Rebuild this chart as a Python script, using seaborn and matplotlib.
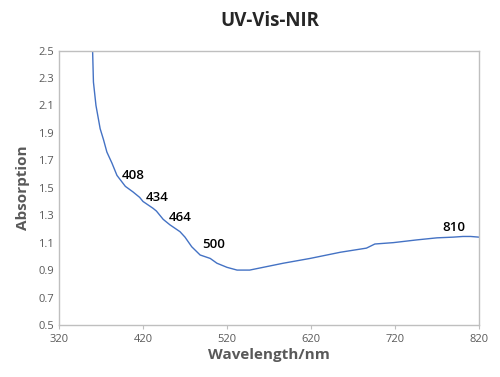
import matplotlib
matplotlib.use("Agg")
import matplotlib.pyplot as plt
import seaborn as sns
import pandas as pd

# =====================
# DATA
# =====================
wavelength = [359, 360, 361, 364, 369, 373, 377, 383, 389, 399, 408, 416, 420,
              432, 436, 444, 452, 464, 470, 478, 488, 500, 508, 520, 532, 547,
              587, 619, 655, 686, 696, 718, 746, 770, 789, 801, 810, 820]
absorption = [2.60, 2.50, 2.27, 2.10, 1.93, 1.85, 1.76, 1.68, 1.59, 1.51, 1.47,
              1.43, 1.40, 1.35, 1.33, 1.27, 1.23, 1.18, 1.14, 1.07, 1.01, 0.985,
              0.95, 0.92, 0.90, 0.90, 0.95, 0.985, 1.03, 1.06, 1.09, 1.10, 1.12,
              1.135, 1.14, 1.145, 1.145, 1.14]

peak_labels = ["408", "434", "464", "500", "810"]
label_x = [395, 423, 451, 490, 776]
label_y = [1.59, 1.43, 1.28, 1.09, 1.21]

x_ticks = [320, 420, 520, 620, 720, 820]
y_ticks = [0.5, 0.7, 0.9, 1.1, 1.3, 1.5, 1.7, 1.9, 2.1, 2.3, 2.5]

df = pd.DataFrame({"Wavelength": wavelength, "Absorption": absorption})

# =====================
# PLOT
# =====================
sns.set_style("white")
plt.rcParams["font.family"] = ["Open Sans", "DejaVu Sans"]

fig, ax = plt.subplots(figsize=(5, 3.77), dpi=100)
fig.subplots_adjust(left=0.118, right=0.958, top=0.866, bottom=0.138)

sns.lineplot(data=df, x="Wavelength", y="Absorption", color="#4472C4",
             linewidth=1.0, ax=ax)

for txt, lx, ly in zip(peak_labels, label_x, label_y):
    ax.text(lx, ly, txt, fontsize=9.5, fontweight="semibold", color="black",
            va="center", ha="left")

ax.set_xlim(320, 820)
ax.set_ylim(0.5, 2.5)
ax.set_xticks(x_ticks)
ax.set_yticks(y_ticks)
ax.set_yticklabels([f"{v:.1f}" for v in y_ticks])
ax.tick_params(axis="both", labelsize=8, colors="#595959")
ax.tick_params(axis="x", length=3, color="#bfbfbf", direction="out", bottom=True)
ax.tick_params(axis="y", length=0)

for sp in ax.spines.values():
    sp.set_color("#bfbfbf")
    sp.set_linewidth(1.0)

ax.set_xlabel("Wavelength/nm", fontsize=11, fontweight="bold", color="#595959", labelpad=2)
ax.set_ylabel("Absorption", fontsize=11, fontweight="bold", color="#595959", labelpad=6)
fig.suptitle("UV-Vis-NIR", fontsize=13.5, fontweight="bold", x=0.54, y=0.972)

plt.savefig("out.png", dpi=100)
plt.close()
